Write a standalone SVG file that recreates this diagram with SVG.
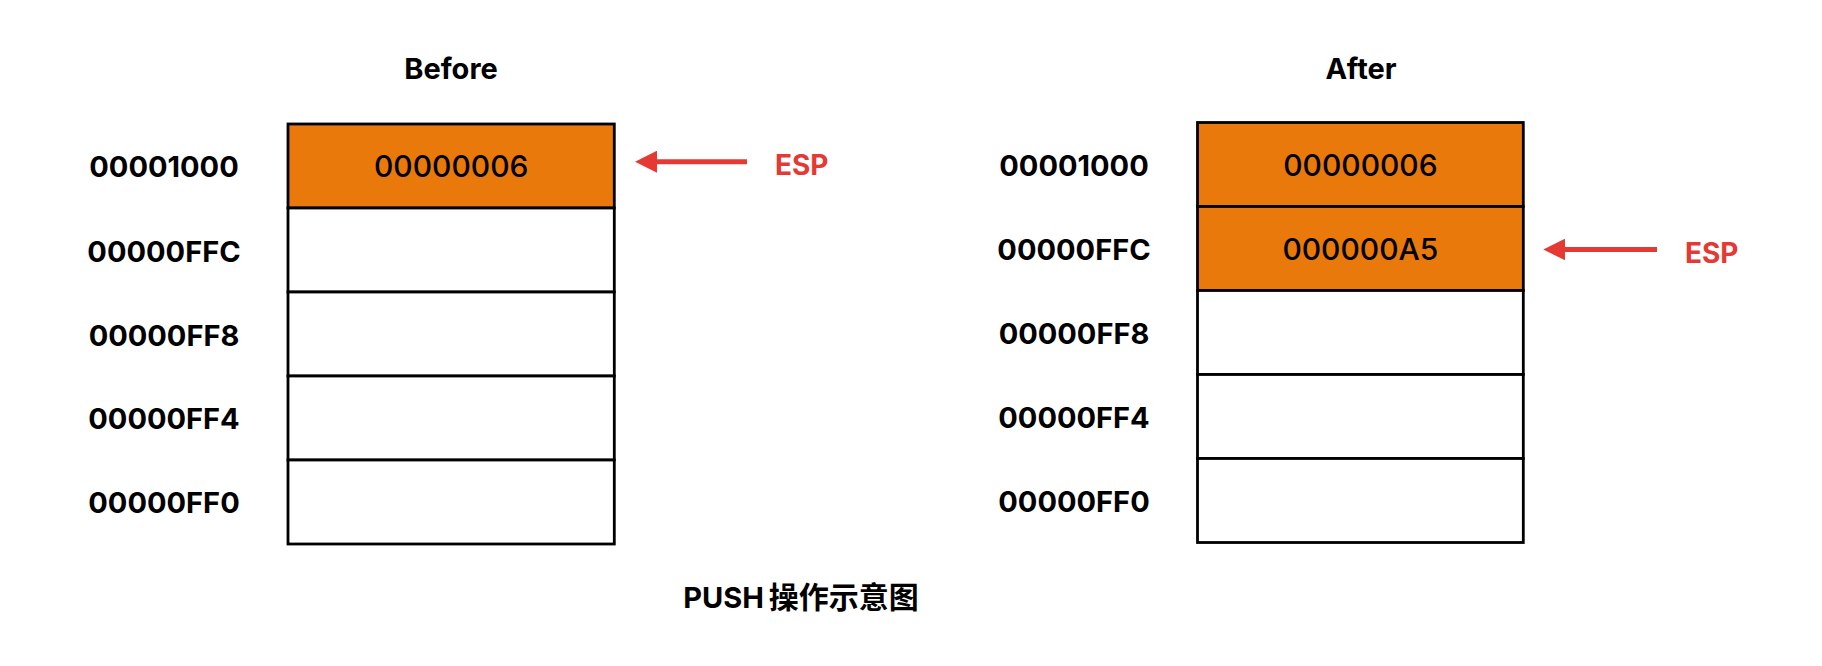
<svg xmlns="http://www.w3.org/2000/svg" width="1822" height="666" viewBox="0 0 1822 666">
  <style>
    .cell { stroke: #000000; stroke-width: 2.8; }
    .filled { fill: #E8790A; }
    .empty { fill: #FFFFFF; }
    .addr { font-family: Inter, "Liberation Sans", sans-serif; font-weight: 700; font-size: 29px; fill: #000000; text-anchor: middle; }
    .val { font-family: Inter, "Liberation Sans", sans-serif; font-weight: 500; font-size: 30px; fill: #000000; text-anchor: middle; }
    .head { font-family: Inter, "Liberation Sans", sans-serif; font-weight: 700; font-size: 29px; fill: #000000; text-anchor: middle; }
    .esp { font-family: Inter, "Liberation Sans", sans-serif; font-weight: 700; font-size: 28px; fill: #E43A33; }
    .title { font-family: Inter, "Noto Sans CJK SC", sans-serif; font-weight: 700; font-size: 29px; fill: #000000; text-anchor: middle; }
    .cjk { font-family: "Noto Sans CJK SC", sans-serif; font-size: 30px; }
    .arrow { stroke: #E43A33; stroke-width: 5; fill: none; }
  </style>
  <defs>
    <marker id="arrowhead" viewBox="0 0 22 22" refX="7" refY="11" markerWidth="22" markerHeight="22" markerUnits="userSpaceOnUse" orient="auto">
      <path d="M0,0 L22,11 L0,22 Z" fill="#E43A33"/>
    </marker>
  </defs>
  <rect x="0" y="0" width="1822" height="666" fill="#FFFFFF"/>

  <text class="head" x="451" y="79.3">Before</text>
  <text class="head" x="1361" y="79">After</text>

  <g id="before-stack">
    <g id="before-1000"><rect class="cell filled" x="288" y="124" width="326.3" height="84"/><text class="val" x="451.2" y="176.7">00000006</text></g>
    <g id="before-0FFC"><rect class="cell empty" x="288" y="208" width="326.3" height="84"/></g>
    <g id="before-0FF8"><rect class="cell empty" x="288" y="292" width="326.3" height="84"/></g>
    <g id="before-0FF4"><rect class="cell empty" x="288" y="376" width="326.3" height="84"/></g>
    <g id="before-0FF0"><rect class="cell empty" x="288" y="460" width="326.3" height="84"/></g>
  </g>

  <g id="before-addresses">
    <text class="addr" x="164" y="177.3">00001000</text>
    <text class="addr" x="164" y="261.5">00000FFC</text>
    <text class="addr" x="164" y="345.5">00000FF8</text>
    <text class="addr" x="164" y="429">00000FF4</text>
    <text class="addr" x="164" y="512.8">00000FF0</text>
  </g>

  <g id="after-stack">
    <g id="after-1000"><rect class="cell filled" x="1197.5" y="122.5" width="325.8" height="84"/><text class="val" x="1360.4" y="176">00000006</text></g>
    <g id="after-0FFC"><rect class="cell filled" x="1197.5" y="206.5" width="325.8" height="84"/><text class="val" x="1360.4" y="260">000000A5</text></g>
    <g id="after-0FF8"><rect class="cell empty" x="1197.5" y="290.5" width="325.8" height="84"/></g>
    <g id="after-0FF4"><rect class="cell empty" x="1197.5" y="374.5" width="325.8" height="84"/></g>
    <g id="after-0FF0"><rect class="cell empty" x="1197.5" y="458.5" width="325.8" height="84"/></g>
  </g>

  <g id="after-addresses">
    <text class="addr" x="1074" y="176">00001000</text>
    <text class="addr" x="1074" y="259.5">00000FFC</text>
    <text class="addr" x="1074" y="344">00000FF8</text>
    <text class="addr" x="1074" y="428">00000FF4</text>
    <text class="addr" x="1074" y="512">00000FF0</text>
  </g>

  <g id="connectors">
    <line class="arrow" x1="747" y1="161.7" x2="650" y2="161.7" marker-end="url(#arrowhead)"/>
    <line class="arrow" x1="1657" y1="249.5" x2="1558.3" y2="249.5" marker-end="url(#arrowhead)"/>
  </g>

  <g id="esp-labels">
    <text class="esp" x="775" y="175">ESP</text>
    <text class="esp" x="1685" y="262.7">ESP</text>
  </g>

  <text class="title" x="801" y="608.3">PUSH<tspan class="cjk" dx="5">操作示意图</tspan></text>
</svg>
